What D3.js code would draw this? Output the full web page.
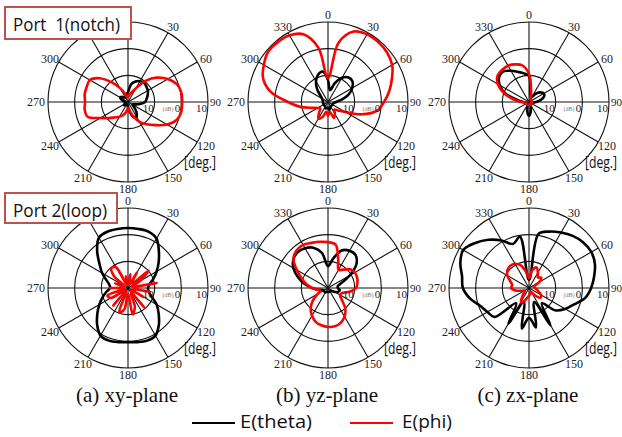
<!DOCTYPE html>
<html>
<head>
<meta charset="utf-8">
<script src="https://cdn.jsdelivr.net/npm/d3@7"></script>
<style>
  body { margin: 0; background: #fff; }
  svg { display: block; }
</style>
</head>
<body>
<svg width="622" height="437"></svg>
<script>
// angle of every sample, degrees (0 = up, clockwise)
var angles = [0, 10, 20, 30, 40, 50, 60, 70, 80, 90, 100, 110, 120, 130, 140, 150, 160, 170,
  180, 190, 200, 210, 220, 230, 240, 250, 260, 270, 280, 290, 300, 310, 320, 330, 340, 350];

// gain in dB, port 1 (notch)
var xyPort1Theta = [-16.3, -13.3, -11.8, -11.0, -10.6, -11.0, -11.4, -12.1, -12.9, -13.6, -15.5, -17.4, -18.1, -17.0, -15.1, -13.6, -14.0, -16.3,
  -18.1, -18.9, -18.9, -18.9, -18.5, -18.1, -18.5, -18.9, -18.9, -18.9, -18.5, -17.4, -16.6, -17.0, -17.8, -18.1, -17.8, -17.0];
var xyPort1Phi = [-18.1, -17.4, -16.3, -14.0, -9.5, -5.8, -2.8, -0.5, 0.3, 0.3, 0.3, -0.5, -3.1, -6.5, -9.1, -11.4, -14.4, -16.6,
  -17.8, -16.3, -14.8, -13.6, -12.5, -10.6, -8.0, -3.9, -3.5, -3.9, -3.5, -3.5, -3.5, -6.1, -10.3, -14.0, -16.6, -18.1];
var yzPort1Theta = [-11.8, -15.5, -12.5, -9.5, -8.0, -8.0, -9.5, -11.8, -14.8, -17.0, -17.8, -18.1, -18.1, -18.1, -18.1, -18.1, -17.8, -17.0,
  -17.8, -17.8, -17.4, -17.8, -18.1, -18.1, -18.1, -18.1, -18.1, -18.1, -18.1, -17.8, -17.4, -16.3, -13.6, -11.0, -9.1, -8.4];
var yzPort1Phi = [-11.0, 2.5, 8.1, 9.3, 9.3, 8.9, 7.8, 5.5, 3.3, 1.0, -1.3, -6.5, -12.5, -15.1, -16.3, -14.8, -13.6, -16.3,
  -14.8, -16.3, -14.0, -12.9, -14.8, -16.3, -15.5, -13.6, -9.5, -5.0, 1.8, 5.9, 7.8, 9.3, 9.3, 8.9, 7.0, 0.6];
var zxPort1Theta = [-10.3, -17.0, -18.1, -17.8, -15.9, -14.4, -13.6, -14.0, -15.5, -17.4, -18.5, -18.9, -18.9, -18.9, -18.9, -18.9, -18.1, -16.3,
  -14.8, -16.3, -18.1, -18.9, -18.9, -18.9, -18.9, -18.9, -18.5, -17.8, -15.5, -10.6, -7.3, -5.4, -5.0, -6.5, -8.0, -9.1];
var zxPort1Phi = [-9.5, -15.5, -18.1, -18.9, -18.9, -18.9, -18.9, -18.9, -18.9, -18.9, -18.9, -18.9, -18.9, -18.9, -18.9, -18.9, -18.9, -18.9,
  -18.9, -18.9, -18.9, -18.9, -18.9, -18.9, -18.9, -18.9, -18.5, -17.0, -14.0, -9.9, -6.5, -4.6, -4.3, -4.3, -5.0, -6.1];

// port 2 (loop)
var xyPort2Theta = [2.5, 2.5, 2.5, 1.4, -2.0, -5.0, -7.6, -9.9, -11.8, -12.5, -12.1, -10.6, -7.6, -5.0, -2.0, 0.6, 1.0, 0.6,
  0.3, 0.6, 1.0, 0.6, -2.0, -5.0, -7.6, -9.9, -11.8, -13.3, -12.9, -11.4, -8.8, -6.1, -2.0, 1.8, 2.5, 2.5];
var xyPort2Phi = [-18.5, -14.8, -18.5, -13.3, -17.8, -9.9, -14.8, -18.5, -9.1, -17.8, -11.8, -18.5, -13.3, -18.5, -10.6, -17.8, -12.5, -9.9,
  -17.8, -11.8, -10.3, -18.5, -11.4, -18.5, -12.5, -11.8, -18.5, -13.3, -18.5, -14.8, -18.5, -13.3, -10.3, -11.0, -18.5, -15.5];
var yzPort2Theta = [-11.8, -8.8, -5.0, -3.9, -3.9, -6.1, -10.6, -14.8, -16.3, -16.3, -15.5, -15.9, -17.0, -18.1, -18.5, -18.5, -18.5, -18.5,
  -18.5, -18.5, -18.5, -18.1, -18.1, -18.1, -18.1, -17.8, -16.3, -14.0, -11.0, -8.0, -5.0, -3.1, -2.4, -2.8, -3.9, -6.5];
var yzPort2Phi = [-2.8, -3.5, -8.8, -12.1, -11.0, -9.1, -8.4, -8.4, -8.8, -9.5, -11.8, -14.4, -14.8, -13.3, -9.9, -7.6, -6.1, -5.4,
  -5.4, -5.8, -6.5, -8.0, -9.9, -12.5, -15.5, -17.0, -16.3, -14.0, -11.8, -9.5, -6.5, -3.1, -1.6, -1.3, -2.0, -2.4];
var zxPort2Theta = [-17.0, 0.6, 2.5, 4.0, 5.5, 6.6, 7.0, 6.3, 4.8, 3.3, 1.4, -2.0, -4.3, -6.9, -12.5, -3.9, -14.4, -5.0,
  -8.8, -4.6, -14.4, -4.6, -12.5, -3.1, -2.0, -0.5, 2.5, 4.8, 5.5, 7.4, 8.5, 6.3, 3.6, 0.6, -2.4, -0.5];
var zxPort2Phi = [-16.3, -13.3, -11.8, -13.3, -14.8, -14.0, -15.5, -17.8, -18.1, -17.8, -17.0, -16.3, -14.8, -14.4, -16.3, -18.1, -18.5, -17.8,
  -17.0, -16.3, -14.8, -14.0, -16.3, -17.8, -18.1, -17.0, -14.8, -13.3, -13.6, -12.5, -10.6, -9.5, -9.1, -9.5, -11.0, -14.0];

var angleTicks = [0, 30, 60, 90, 120, 150, 180, 210, 240, 270, 300, 330];
var angleLabels = ['0', '30', '60', '90', '120', '150', '180', '210', '240', '270', '300', '330'];
var ringValues = [-10, 0, 10];
var ringLabels = ['10', '0', '10'];
var planeNames = ['(a) xy-plane', '(b) yz-plane', '(c) zx-plane'];
var portNames = ['Port  1(notch)', 'Port 2(loop)'];
var legendNames = ['E(theta)', 'E(phi)'];

var svg = d3.select('svg');
var cols = [128, 328, 529];
var rows = [102, 288];
var R = 80;

var panels = [
  {col: 0, row: 0, theta: xyPort1Theta, phi: xyPort1Phi},
  {col: 1, row: 0, theta: yzPort1Theta, phi: yzPort1Phi},
  {col: 2, row: 0, theta: zxPort1Theta, phi: zxPort1Phi},
  {col: 0, row: 1, theta: xyPort2Theta, phi: xyPort2Phi},
  {col: 1, row: 1, theta: yzPort2Theta, phi: yzPort2Phi},
  {col: 2, row: 1, theta: zxPort2Theta, phi: zxPort2Phi}
];

var rScale = d3.scaleLinear().domain([-20, 10]).range([0, R]).clamp(true);
var aScale = d3.scaleLinear().domain([0, 360]).range([0, 2 * Math.PI]);

var line = d3.lineRadial()
  .angle((d, i) => aScale(angles[i]))
  .radius(d => rScale(d))
  .curve(d3.curveCatmullRomClosed.alpha(0.5));

panels.forEach(p => {
  var cx = cols[p.col], cy = rows[p.row];
  var g = svg.append('g').attr('transform', `translate(${cx},${cy})`);

  g.selectAll('circle.ring')
    .data(ringValues)
    .enter().append('circle')
    .attr('r', d => rScale(d))
    .attr('fill', 'none')
    .attr('stroke', '#111')
    .attr('stroke-width', 1.1);

  g.selectAll('line.spoke')
    .data(angleTicks.slice(0, 6))
    .enter().append('line')
    .attr('x1', d => -R * Math.sin(aScale(d)))
    .attr('y1', d => R * Math.cos(aScale(d)))
    .attr('x2', d => R * Math.sin(aScale(d)))
    .attr('y2', d => -R * Math.cos(aScale(d)))
    .attr('stroke', '#111')
    .attr('stroke-width', 1.1);

  g.append('path')
    .attr('d', line(p.theta))
    .attr('fill', 'none')
    .attr('stroke', '#000')
    .attr('stroke-width', 2.6)
    .attr('stroke-linejoin', 'round');

  g.append('path')
    .attr('d', line(p.phi))
    .attr('fill', 'none')
    .attr('stroke', '#ff0000')
    .attr('stroke-width', 2.6)
    .attr('stroke-linejoin', 'round');

  // angle labels, 90 and 270 hug the circle
  g.selectAll('text.ang')
    .data(angleTicks)
    .enter().append('text')
    .attr('x', d => d === 90 ? R + 2 : d === 270 ? -R - 3 : 90 * Math.sin(aScale(d)))
    .attr('y', d => -87 * Math.cos(aScale(d)))
    .attr('dy', '0.35em')
    .attr('text-anchor', d => d === 90 ? 'start' : d === 270 ? 'end' : 'middle')
    .attr('font-family', 'Liberation Serif, serif')
    .attr('font-size', d => d === 90 ? 11 : 12)
    .attr('fill', '#222')
    .text((d, i) => angleLabels[i]);

  g.selectAll('text.ring')
    .data(ringValues)
    .enter().append('text')
    .attr('x', d => rScale(d) - 1)
    .attr('y', 10)
    .attr('text-anchor', 'end')
    .attr('font-family', 'Liberation Serif, serif')
    .attr('font-size', 11)
    .attr('fill', '#222')
    .text((d, i) => ringLabels[i]);

  g.append('text')
    .attr('x', 40)
    .attr('y', 9)
    .attr('text-anchor', 'middle')
    .attr('font-family', 'Liberation Serif, serif')
    .attr('font-size', 6)
    .attr('fill', '#777')
    .text('(dB)');

  g.append('text')
    .attr('x', 56)
    .attr('y', 66)
    .attr('font-family', 'Open Sans, sans-serif')
    .attr('font-size', 16)
    .attr('textLength', 32)
    .attr('lengthAdjust', 'spacingAndGlyphs')
    .attr('fill', '#111')
    .text('[deg.]');
});

// port boxes
var boxes = [
  {x: 5, y: 7, w: 126, h: 32, tw: 107},
  {x: 5, y: 193, w: 112, h: 30, tw: 94}
];
boxes.forEach((b, i) => {
  svg.append('rect')
    .attr('x', b.x).attr('y', b.y)
    .attr('width', b.w).attr('height', b.h)
    .attr('fill', '#fff')
    .attr('stroke', '#c0504d')
    .attr('stroke-width', 2);
  svg.append('text')
    .attr('x', b.x + 8)
    .attr('y', b.y + 24)
    .style('white-space', 'pre')
    .attr('font-family', 'Open Sans, sans-serif')
    .attr('font-size', 19)
    .attr('textLength', b.tw)
    .attr('lengthAdjust', 'spacingAndGlyphs')
    .attr('fill', '#111')
    .text(portNames[i]);
});

// captions
svg.selectAll('text.caption')
  .data(planeNames)
  .enter().append('text')
  .attr('x', (d, i) => cols[i] - 1)
  .attr('y', 402)
  .attr('text-anchor', 'middle')
  .attr('font-family', 'Liberation Serif, serif')
  .attr('font-size', 21)
  .attr('fill', '#111')
  .text(d => d);

// legend
var legend = [
  {x1: 192, x2: 235, tx: 240, tw: 72, color: '#000'},
  {x1: 350, x2: 393, tx: 402, tw: 50, color: '#ff0000'}
];
legend.forEach((l, i) => {
  svg.append('line')
    .attr('x1', l.x1).attr('x2', l.x2)
    .attr('y1', 423).attr('y2', 423)
    .attr('stroke', l.color)
    .attr('stroke-width', 2);
  svg.append('text')
    .attr('x', l.tx)
    .attr('y', 428)
    .attr('font-family', 'Open Sans, sans-serif')
    .attr('font-size', 18)
    .attr('textLength', l.tw)
    .attr('lengthAdjust', 'spacingAndGlyphs')
    .attr('fill', '#111')
    .text(legendNames[i]);
});
</script>
</body>
</html>
